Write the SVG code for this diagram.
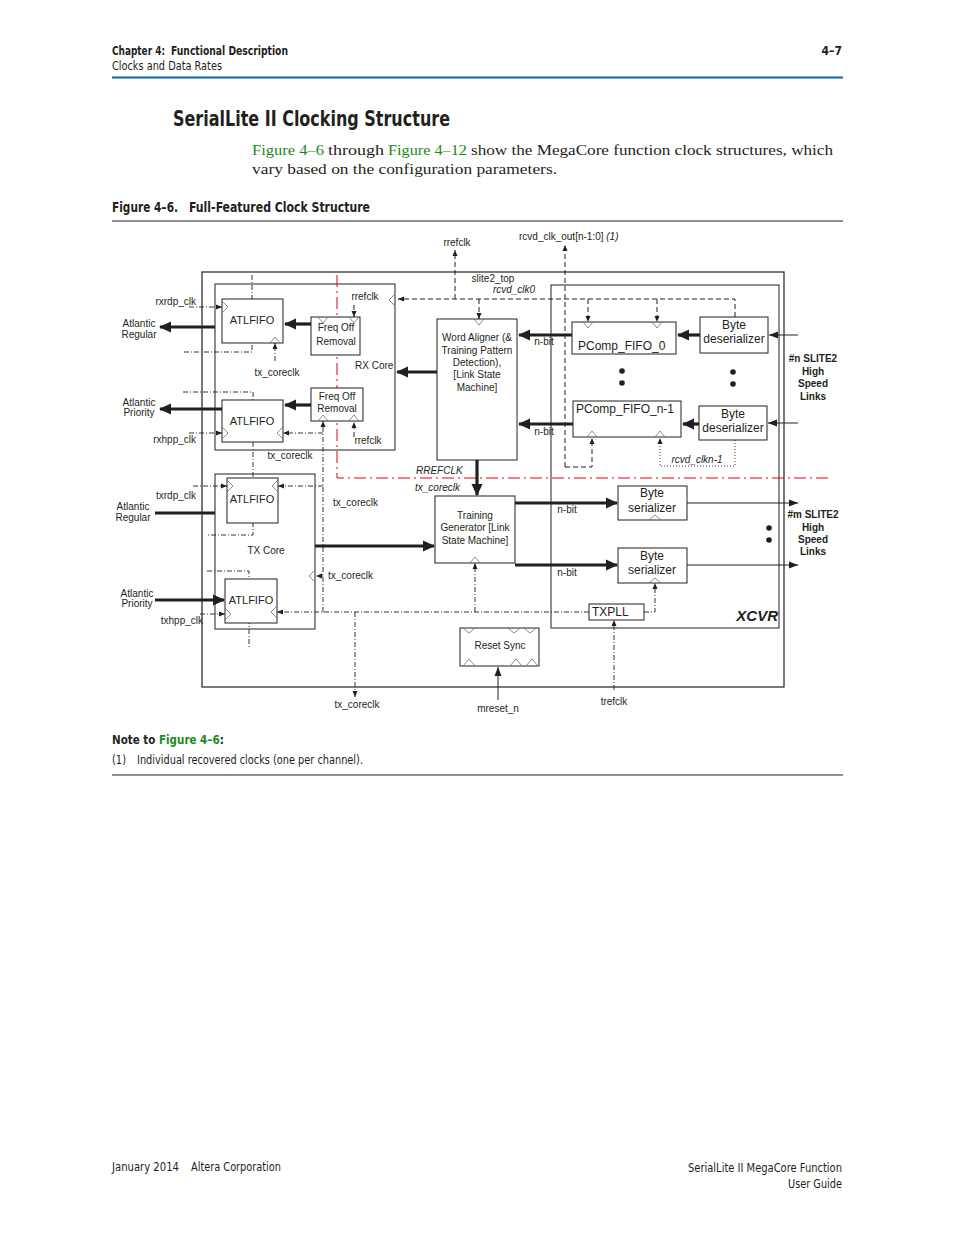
<svg xmlns="http://www.w3.org/2000/svg" width="954" height="1235" viewBox="0 0 954 1235">
<style>
.hdr{font-family:"Liberation Sans Narrow","DejaVu Sans Condensed","Liberation Sans",sans-serif;fill:#231f20}
.b{font-weight:bold}
.ser{font-family:"Liberation Serif",serif;font-size:15.5px;fill:#231f20}
.grn{fill:#1a8a1a}
.t{font-family:"Liberation Sans",Arial,sans-serif;font-size:10px;fill:#231f20}
.t12{font-family:"Liberation Sans",Arial,sans-serif;font-size:12px;fill:#231f20}
.t11{font-family:"Liberation Sans",Arial,sans-serif;font-size:11px;fill:#231f20}
.it{font-style:italic}
.m{text-anchor:middle}
.e{text-anchor:end}
.box{fill:#fff;stroke:#231f20;stroke-width:1}
.frame{fill:none;stroke:#231f20;stroke-width:1.2}
.ck{fill:none;stroke:#6d6e71;stroke-width:0.8}
.thick{fill:none;stroke:#231f20;stroke-width:3.2}
.thin{fill:none;stroke:#231f20;stroke-width:1}
.dash{fill:none;stroke:#231f20;stroke-width:1;stroke-dasharray:5,3}
.dd{fill:none;stroke:#231f20;stroke-width:0.9;stroke-dasharray:5,2,1,2}
.dot{fill:none;stroke:#231f20;stroke-width:0.9;stroke-dasharray:1,2}
.red{fill:none;stroke:#e2001a;stroke-width:1;stroke-dasharray:12,4,2,4}
</style>
<defs>
<marker id="ah" markerUnits="userSpaceOnUse" markerWidth="12" markerHeight="12" viewBox="0 0 12 12" refX="11" refY="6" orient="auto"><path d="M0,0.5 L12,6 L0,11.5 Z" fill="#231f20"/></marker>
<marker id="as" markerUnits="userSpaceOnUse" markerWidth="9" markerHeight="8" viewBox="0 0 9 8" refX="9" refY="4" orient="auto"><path d="M0,0.5 L9,4 L0,7.5 Z" fill="#231f20"/></marker>
<marker id="ac" markerUnits="userSpaceOnUse" markerWidth="6" markerHeight="6" viewBox="0 0 6 6" refX="6" refY="3" orient="auto"><path d="M0,0.5 L6,3 L0,5.5 Z" fill="#231f20"/></marker>
</defs>

<!-- page header -->
<g id="header">
<text class="hdr b" x="112" y="55" font-size="12" textLength="53" lengthAdjust="spacingAndGlyphs">Chapter 4:</text>
<text class="hdr b" x="171" y="55" font-size="12" textLength="117" lengthAdjust="spacingAndGlyphs">Functional Description</text>
<text class="hdr" x="112" y="70" font-size="12" textLength="110" lengthAdjust="spacingAndGlyphs">Clocks and Data Rates</text>
<text class="hdr b" x="842" y="55" font-size="12" text-anchor="end">4–7</text>
<line x1="112" y1="77.5" x2="843" y2="77.5" stroke="#0868a8" stroke-width="2"/>
<text class="hdr b" x="173" y="126" font-size="22" textLength="277" lengthAdjust="spacingAndGlyphs">SerialLite II Clocking Structure</text>
<text class="ser grn" x="252" y="155" textLength="72" lengthAdjust="spacingAndGlyphs">Figure 4–6</text>
<text class="ser" x="328" y="155" textLength="56" lengthAdjust="spacingAndGlyphs">through</text>
<text class="ser grn" x="388" y="155" textLength="79" lengthAdjust="spacingAndGlyphs">Figure 4–12</text>
<text class="ser" x="471" y="155" textLength="362" lengthAdjust="spacingAndGlyphs">show the MegaCore function clock structures, which</text>
<text class="ser" x="252" y="174" textLength="305" lengthAdjust="spacingAndGlyphs">vary based on the configuration parameters.</text>
<text class="hdr b" x="112" y="212" font-size="14" textLength="66" lengthAdjust="spacingAndGlyphs">Figure 4–6.</text>
<text class="hdr b" x="189" y="212" font-size="14" textLength="181" lengthAdjust="spacingAndGlyphs">Full-Featured Clock Structure</text>
<line x1="112" y1="221" x2="843" y2="221" stroke="#231f20" stroke-width="1"/>
</g>

<!-- frames -->
<g id="slite2_top"><rect class="frame" x="202" y="272" width="582" height="415"/>
<text class="t m" x="493" y="282">slite2_top</text>
<text class="t m it" x="514" y="293">rcvd_clk0</text></g>
<g id="rx_core"><rect class="box" x="215" y="284" width="180" height="166"/>
<text class="t" x="355" y="369">RX Core</text>
<polyline class="ck" points="395,294 389,300 395,306"/></g>
<g id="xcvr"><rect class="box" x="551" y="285" width="228" height="343"/>
<text x="778" y="621" text-anchor="end" font-family="Liberation Sans,Arial,sans-serif" font-size="15" font-weight="bold" font-style="italic" fill="#231f20">XCVR</text></g>
<g id="tx_core"><rect class="box" x="215" y="474" width="100" height="155"/>
<text class="t m" x="266" y="554">TX Core</text>
<polyline class="ck" points="315,570 309,576 315,582"/></g>

<!-- structural dash-dot and red partition -->
<g id="partitions">
<path class="dd" d="M252,275 V352 H183"/>
<path class="dd" d="M183,392 H253 V535 H207"/>
<path class="dd" d="M207,571 H249 V647"/>
<path class="red" d="M337,275 V478 H828"/>
</g>

<!-- nodes -->
<g id="rx_atlfifo_reg"><rect class="box" x="222" y="299" width="61" height="44"/>
<text class="t11 m" x="252" y="324">ATLFIFO</text>
<polyline class="ck" points="222,301 228,307 222,313"/><polyline class="ck" points="270,343 275,337 280,343"/></g>
<g id="freq_off_1"><rect class="box" x="311" y="317" width="49" height="38"/>
<text class="t m" x="336" y="331">Freq Off</text><text class="t m" x="336" y="345">Removal</text>
<polyline class="ck" points="318,317 323,323 328,317"/><polyline class="ck" points="349,317 354,323 359,317"/></g>
<g id="rx_atlfifo_pri"><rect class="box" x="222" y="400" width="61" height="42"/>
<text class="t11 m" x="252" y="425">ATLFIFO</text>
<polyline class="ck" points="222,427 228,433 222,439"/><polyline class="ck" points="283,427 277,433 283,439"/></g>
<g id="freq_off_2"><rect class="box" x="311" y="388" width="52" height="33"/>
<text class="t m" x="337" y="400">Freq Off</text><text class="t m" x="337" y="412">Removal</text>
<polyline class="ck" points="318,421 323,415 328,421"/><polyline class="ck" points="349,421 354,415 359,421"/></g>
<g id="word_aligner"><rect class="box" x="437" y="319" width="80" height="141"/>
<text class="t m" x="477" y="341">Word Aligner (&amp;</text><text class="t m" x="477" y="354">Training Pattern</text><text class="t m" x="477" y="366">Detection),</text><text class="t m" x="477" y="378">[Link State</text><text class="t m" x="477" y="391">Machine]</text>
<polyline class="ck" points="474,319 479,325 484,319"/></g>
<g id="pcomp_0"><rect class="box" x="572" y="322" width="104" height="32"/>
<text class="t12" x="578" y="350">PComp_FIFO_0</text>
<polyline class="ck" points="583,322 588,328 593,322"/><polyline class="ck" points="652,322 657,328 662,322"/></g>
<g id="pcomp_n1"><rect class="box" x="573" y="401" width="108" height="36"/>
<text class="t12" x="576" y="413">PComp_FIFO_n-1</text>
<polyline class="ck" points="587,437 592,431 597,437"/><polyline class="ck" points="655,437 660,431 665,437"/></g>
<g id="byte_deser_0"><rect class="box" x="700" y="317" width="68" height="36"/>
<text class="t12 m" x="734" y="329">Byte</text><text class="t12 m" x="734" y="343">deserializer</text></g>
<g id="byte_deser_n1"><rect class="box" x="699" y="406" width="68" height="34"/>
<text class="t12 m" x="733" y="418">Byte</text><text class="t12 m" x="733" y="432">deserializer</text></g>
<g id="training_gen"><rect class="box" x="435" y="496" width="80" height="67"/>
<text class="t m" x="475" y="519">Training</text><text class="t m" x="475" y="531">Generator [Link</text><text class="t m" x="475" y="544">State Machine]</text>
<polyline class="ck" points="470,563 475,557 480,563"/></g>
<g id="byte_ser_0"><rect class="box" x="618" y="486" width="69" height="34"/>
<text class="t12 m" x="652" y="497">Byte</text><text class="t12 m" x="652" y="512">serializer</text>
<polyline class="ck" points="649,520 655,515 661,520"/></g>
<g id="byte_ser_1"><rect class="box" x="618" y="548" width="69" height="35"/>
<text class="t12 m" x="652" y="560">Byte</text><text class="t12 m" x="652" y="574">serializer</text>
<polyline class="ck" points="649,583 655,578 661,583"/></g>
<g id="txpll"><rect class="box" x="589" y="604" width="55" height="16"/>
<text class="t12" x="592" y="616">TXPLL</text></g>
<g id="tx_atlfifo_reg"><rect class="box" x="227" y="478" width="51" height="45"/>
<text class="t11 m" x="252" y="503">ATLFIFO</text>
<polyline class="ck" points="227,480 233,486 227,492"/><polyline class="ck" points="278,480 272,486 278,492"/></g>
<g id="tx_atlfifo_pri"><rect class="box" x="225" y="579" width="52" height="44"/>
<text class="t11 m" x="251" y="604">ATLFIFO</text>
<polyline class="ck" points="225,608 231,614 225,620"/><polyline class="ck" points="277,606 271,612 277,618"/></g>
<g id="reset_sync"><rect class="box" x="460" y="628" width="79" height="38"/>
<text class="t m" x="500" y="649">Reset Sync</text>
<polyline class="ck" points="463,628 469,633 475,628"/><polyline class="ck" points="508,628 514,633 520,628"/><polyline class="ck" points="524,628 530,633 536,628"/>
<polyline class="ck" points="463,666 469,659 475,666"/><polyline class="ck" points="510,666 516,659 522,666"/><polyline class="ck" points="526,666 532,659 538,666"/></g>

<!-- connectors -->
<g id="connectors">
<path class="thick" d="M215,327 H160" marker-end="url(#ah)"/>
<path class="thick" d="M311,324 H285" marker-end="url(#ah)"/>
<path class="thick" d="M222,409 H160" marker-end="url(#ah)"/>
<path class="thick" d="M311,405 H285" marker-end="url(#ah)"/>
<path class="thick" d="M437,372 H397" marker-end="url(#ah)"/>
<path class="thick" d="M572,335 H519" marker-end="url(#ah)"/>
<path class="thick" d="M573,424 H519" marker-end="url(#ah)"/>
<path class="thick" d="M700,335 H678" marker-end="url(#ah)"/>
<path class="thick" d="M699,424 H683" marker-end="url(#ah)"/>
<path class="thick" d="M477,460 V495" marker-end="url(#ah)"/>
<path class="thick" d="M315,546 H434" marker-end="url(#ah)"/>
<path class="thick" d="M515,503 H617" marker-end="url(#ah)"/>
<path class="thick" d="M515,565 H617" marker-end="url(#ah)"/>
<path class="thick" d="M155,600 H224" marker-end="url(#ah)"/>
<path class="thick" d="M155,513 H215"/>
<path class="thin" d="M798,335 H769" marker-end="url(#as)"/>
<path class="thin" d="M798,423 H768" marker-end="url(#as)"/>
<path class="thin" d="M687,503 H798" marker-end="url(#as)"/>
<path class="thin" d="M687,565 H798" marker-end="url(#as)"/>
<path class="thin" d="M498,700 V667" marker-end="url(#as)"/>
<path class="dash" d="M735,317 V299 H398" marker-end="url(#ac)"/>
<path class="dash" d="M455,299 V250" marker-end="url(#ac)"/>
<path class="dash" d="M479,299 V319" marker-end="url(#ac)"/>
<path class="dash" d="M588,299 V322" marker-end="url(#ac)"/>
<path class="dash" d="M657,299 V322" marker-end="url(#ac)"/>
<path class="dash" d="M565,467 V245" marker-end="url(#ac)"/>
<path class="dash" d="M565,467 H592 V438" marker-end="url(#ac)"/>
<path class="dash" d="M354,305 V317" marker-end="url(#ac)"/>
<path class="dash" d="M354,437 V422" marker-end="url(#ac)"/>
<path class="dot" d="M735,440 V466 H660 V438" marker-end="url(#ac)"/>
<path class="dd" d="M189,307 H222" marker-end="url(#ac)"/>
<path class="dd" d="M189,433 H222" marker-end="url(#ac)"/>
<path class="dd" d="M275,361 V343" marker-end="url(#ac)"/>
<path class="dd" d="M323,612 V421" marker-end="url(#ac)"/>
<path class="dd" d="M323,433 H283" marker-end="url(#ac)"/>
<path class="dd" d="M323,486 H278" marker-end="url(#ac)"/>
<path class="dd" d="M323,576 H316" marker-end="url(#ac)"/>
<path class="dd" d="M589,612 H277" marker-end="url(#ac)"/>
<path class="dd" d="M475,612 V563" marker-end="url(#ac)"/>
<path class="dd" d="M355,612 V697" marker-end="url(#ac)"/>
<path class="dd" d="M644,612 H655 V583" marker-end="url(#ac)"/>
<path class="dd" d="M614,690 V620" marker-end="url(#ac)"/>
<path class="dd" d="M193,486 H227" marker-end="url(#ac)"/>
<path class="dd" d="M200,614 H225" marker-end="url(#ac)"/>
</g>

<!-- labels -->
<g id="labels">
<text class="t m" x="457" y="246">rrefclk</text>
<text class="t" x="519" y="240">rcvd_clk_out[n-1:0] <tspan class="it">(1)</tspan></text>
<text class="t e" x="196" y="305">rxrdp_clk</text>
<text class="t m" x="139" y="327">Atlantic</text><text class="t m" x="139" y="338">Regular</text>
<text class="t m" x="365" y="300">rrefclk</text>
<text class="t m" x="277" y="376">tx_coreclk</text>
<text class="t m" x="139" y="406">Atlantic</text><text class="t m" x="139" y="416">Priority</text>
<text class="t e" x="196" y="443">rxhpp_clk</text>
<text class="t m" x="368" y="444">rrefclk</text>
<text class="t m" x="290" y="459">tx_coreclk</text>
<text class="t m" x="544" y="345">n-bit</text>
<text class="t m" x="544" y="435">n-bit</text>
<text class="t m b" x="813" y="362">#n SLITE2</text><text class="t m b" x="813" y="375">High</text><text class="t m b" x="813" y="387">Speed</text><text class="t m b" x="813" y="400">Links</text>
<text class="t m it" x="697" y="463">rcvd_clkn-1</text>
<text class="t it" x="416" y="474">RREFCLK</text>
<text class="t it" x="415" y="491">tx_coreclk</text>
<text class="t e" x="196" y="499">txrdp_clk</text>
<text class="t m" x="133" y="510">Atlantic</text><text class="t m" x="133" y="521">Regular</text>
<text class="t" x="333" y="506">tx_coreclk</text>
<text class="t m" x="567" y="513">n-bit</text>
<text class="t m" x="567" y="576">n-bit</text>
<text class="t m b" x="813" y="518">#m SLITE2</text><text class="t m b" x="813" y="531">High</text><text class="t m b" x="813" y="543">Speed</text><text class="t m b" x="813" y="555">Links</text>
<text class="t" x="328" y="579">tx_coreclk</text>
<text class="t m" x="137" y="597">Atlantic</text><text class="t m" x="137" y="607">Priority</text>
<text class="t e" x="203" y="624">txhpp_clk</text>
<text class="t m" x="357" y="708">tx_coreclk</text>
<text class="t m" x="498" y="712">mreset_n</text>
<text class="t m" x="614" y="705">trefclk</text>
<circle cx="622" cy="371" r="2.8" fill="#231f20"/><circle cx="622" cy="383" r="2.8" fill="#231f20"/>
<circle cx="733" cy="372" r="2.8" fill="#231f20"/><circle cx="733" cy="384" r="2.8" fill="#231f20"/>
<circle cx="769" cy="528" r="2.8" fill="#231f20"/><circle cx="769" cy="540" r="2.8" fill="#231f20"/>
</g>

<!-- notes and footer -->
<g id="footer">
<text class="hdr b" x="112" y="744" font-size="11.5">Note to <tspan class="grn">Figure 4–6</tspan>:</text>
<text class="hdr" x="112" y="764" font-size="12" textLength="14" lengthAdjust="spacingAndGlyphs">(1)</text>
<text class="hdr" x="137" y="764" font-size="12" textLength="226" lengthAdjust="spacingAndGlyphs">Individual recovered clocks (one per channel).</text>
<line x1="112" y1="775" x2="843" y2="775" stroke="#231f20" stroke-width="1"/>
<text class="hdr" x="112" y="1171" font-size="12" textLength="67" lengthAdjust="spacingAndGlyphs">January 2014</text>
<text class="hdr" x="191" y="1171" font-size="12" textLength="90" lengthAdjust="spacingAndGlyphs">Altera Corporation</text>
<text class="hdr" x="842" y="1172" font-size="12" text-anchor="end" textLength="154" lengthAdjust="spacingAndGlyphs">SerialLite II MegaCore Function</text>
<text class="hdr" x="842" y="1188" font-size="12" text-anchor="end" textLength="54" lengthAdjust="spacingAndGlyphs">User Guide</text>
</g>
</svg>
